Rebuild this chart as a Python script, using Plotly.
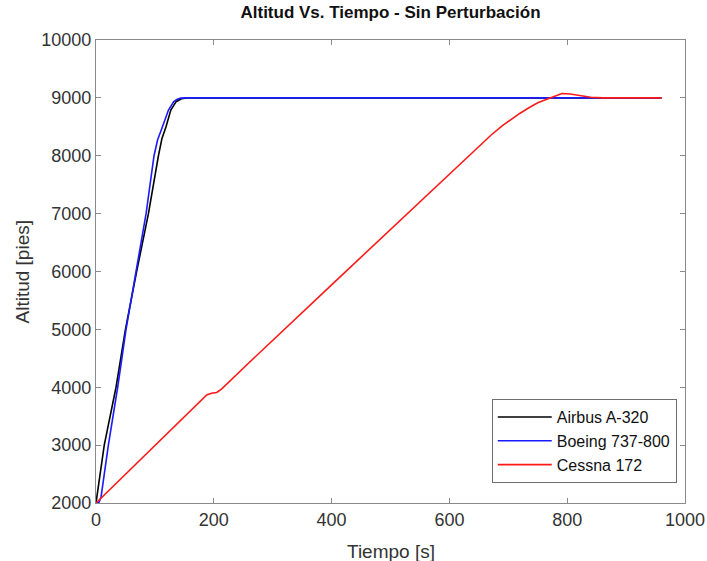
import plotly.graph_objects as go

# Airbus A-320
t_airbus = [0, 5, 14, 34, 50, 69, 89, 106, 112, 119, 127, 136, 145, 155, 170, 960]
alt_airbus = [2000, 2350, 3000, 4000, 5000, 6000, 7000, 8000, 8300, 8505, 8790, 8934, 8985, 9000, 9000, 9000]

# Boeing 737-800
t_boeing = [0, 5, 8.5, 13, 21, 36.8, 51, 68, 85, 98.5, 104.5, 113, 123, 132, 138, 144, 155, 960]
alt_boeing = [2000, 2010, 2100, 2450, 3000, 4000, 5000, 6000, 7000, 8000, 8272, 8505, 8790, 8934, 8975, 8995, 9000, 9000]

# Cessna 172
t_cessna = [0, 100, 188, 196, 205, 214, 261, 400, 500, 643, 670, 690, 705, 720, 735, 750, 762, 771, 782, 791, 805, 820, 840, 860, 960]
alt_cessna = [2000, 2990, 3866, 3895, 3910, 3975, 4436, 5770, 6730, 8099, 8350, 8520, 8630, 8735, 8830, 8915, 8965, 9000, 9050, 9075, 9068, 9040, 9010, 9000, 9000]

x_ticks = [0, 200, 400, 600, 800, 1000]
y_ticks = [2000, 3000, 4000, 5000, 6000, 7000, 8000, 9000, 10000]

FONT = "Liberation Sans, Arial, sans-serif"
AXIS_COLOR = "#8a8a8a"
TEXT_COLOR = "#333333"

fig = go.Figure()
fig.add_trace(go.Scatter(x=t_airbus, y=alt_airbus, mode="lines", name="Airbus A-320",
                         line=dict(color="#000000", width=1.6)))
fig.add_trace(go.Scatter(x=t_boeing, y=alt_boeing, mode="lines", name="Boeing 737-800",
                         line=dict(color="#1a1aff", width=1.6)))
fig.add_trace(go.Scatter(x=t_cessna, y=alt_cessna, mode="lines", name="Cessna 172",
                         line=dict(color="#ff1a1a", width=1.6)))

axis_common = dict(
    showgrid=False, zeroline=False, showline=True, linecolor=AXIS_COLOR, linewidth=1.2,
    mirror="ticks", ticks="inside", ticklen=5, tickwidth=1, tickcolor=AXIS_COLOR,
    tickfont=dict(family=FONT, size=18, color=TEXT_COLOR), automargin=False,
)

fig.update_layout(
    width=707, height=561,
    margin=dict(l=96, r=22, t=40, b=58),
    paper_bgcolor="white", plot_bgcolor="white",
    title=dict(text="<b>Altitud Vs. Tiempo - Sin Perturbación</b>",
               font=dict(family=FONT, size=17, color="#111111"),
               x=(96 + 685) / 2 / 707, xanchor="center",
               y=1 - 12 / 561, yanchor="middle", yref="container"),
    xaxis=dict(range=[0, 1000], tickvals=x_ticks, ticktext=[str(v) for v in x_ticks],
               **axis_common),
    yaxis=dict(range=[2000, 10000], tickvals=y_ticks, ticktext=[str(v) for v in y_ticks],
               **axis_common),
    legend=dict(x=0.986, y=0.043, xanchor="right", yanchor="bottom",
                bgcolor="white", bordercolor="#6e6e6e", borderwidth=1,
                font=dict(family=FONT, size=16, color="#111111"),
                itemwidth=54, tracegroupgap=0),
    showlegend=True,
    annotations=[
        dict(text="Tiempo [s]", xref="paper", yref="paper", x=0.5, y=-(551 - 503) / 463,
             xanchor="center", yanchor="middle", showarrow=False,
             font=dict(family=FONT, size=19, color=TEXT_COLOR)),
        dict(text="Altitud [pies]", xref="paper", yref="paper", x=-(96 - 22) / 589, y=0.5,
             xanchor="center", yanchor="middle", showarrow=False, textangle=-90,
             font=dict(family=FONT, size=19, color=TEXT_COLOR)),
    ],
)

fig.write_html("out.html")
